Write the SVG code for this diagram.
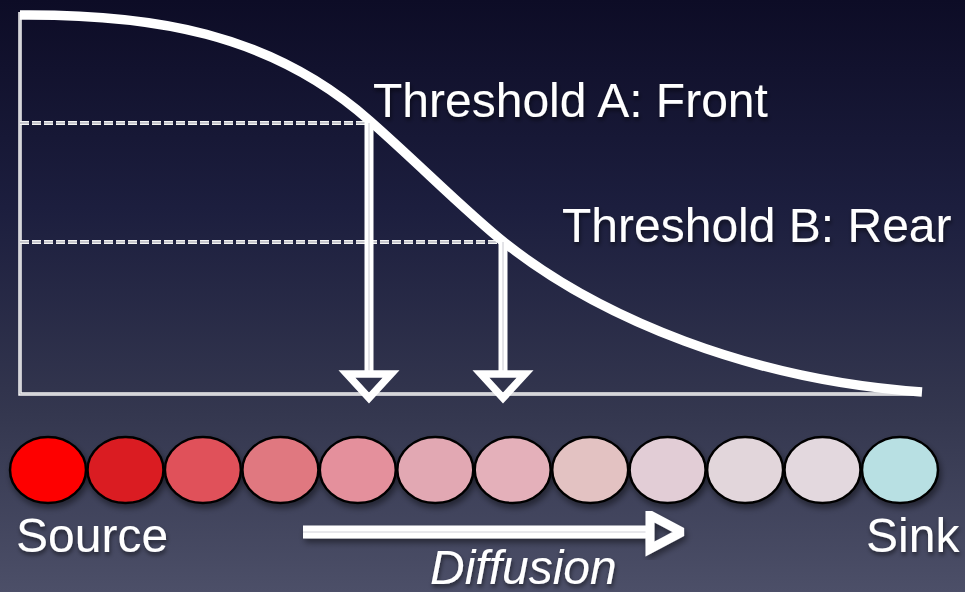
<svg xmlns="http://www.w3.org/2000/svg" width="965" height="592" viewBox="0 0 965 592">
<defs>
<linearGradient id="bg" x1="0" y1="0" x2="0" y2="1">
<stop offset="0" stop-color="#0d0c26"/>
<stop offset="0.35" stop-color="#1c1e3e"/>
<stop offset="0.7" stop-color="#34374f"/>
<stop offset="1" stop-color="#4c4f68"/>
</linearGradient>
<filter id="sh" x="-10%" y="-10%" width="130%" height="140%">
<feDropShadow dx="2" dy="4" stdDeviation="3" flood-color="#000" flood-opacity="0.45"/>
</filter>
<filter id="tsh" x="-5%" y="-20%" width="115%" height="150%">
<feDropShadow dx="1" dy="3" stdDeviation="2" flood-color="#000" flood-opacity="0.5"/>
</filter>
</defs>
<style>
.axis{fill:none;stroke:#f4f4f4;stroke-width:3.5}
.axin{fill:none;stroke:#b8b8c0;stroke-width:1}
.dash{fill:none;stroke:#f4f4f4;stroke-width:4;stroke-dasharray:9 3}
.dashin{fill:none;stroke:#9a9aa8;stroke-width:1;stroke-dasharray:9 3}
.curve{fill:none;stroke:#fff;stroke-width:9.5;stroke-linecap:butt}
.shaft{fill:none;stroke:#fff;stroke-width:9}
.shin{fill:none;stroke:#c8c8d0;stroke-width:1}
.head{fill:none;stroke:#fff;stroke-width:7.5;stroke-linejoin:miter;stroke-miterlimit:3}
.cell{stroke:#000;stroke-width:2.5}
.lbl{font-family:"Liberation Sans",Arial,sans-serif;font-size:48px;fill:#fff}
</style>
<rect x="0" y="0" width="965" height="592" fill="url(#bg)"/>

<g id="axes">
<path class="axis" d="M20,12 V394 H918"/>
<path class="axin" d="M20,12 V394 H918"/>
</g>

<g id="threshold-lines">
<line class="dash" x1="20" y1="123" x2="366" y2="123"/>
<line class="dashin" x1="20" y1="123" x2="366" y2="123"/>
<line class="dash" x1="20" y1="242" x2="500" y2="242"/>
<line class="dashin" x1="20" y1="242" x2="500" y2="242"/>
</g>

<g id="curve">
<path class="curve" d="M20,15 C150,14 270,32 370,121 C420,165 465,211 505,243 C600,318 750,380 922,392"/>
</g>

<g id="connectors">
<g id="arrow-a">
<line class="shaft" x1="369" y1="123" x2="369" y2="372"/>
<line class="shin" x1="369" y1="123" x2="369" y2="372"/>
<polygon class="head" points="347,374 391,374 369,398"/>
</g>
<g id="arrow-b">
<line class="shaft" x1="503" y1="242" x2="503" y2="372"/>
<line class="shin" x1="503" y1="242" x2="503" y2="372"/>
<polygon class="head" points="481,374 525,374 503,398"/>
</g>
<g id="arrow-diffusion" filter="url(#sh)">
<line x1="303" y1="532" x2="650" y2="532" stroke="#fff" stroke-width="13"/>
<line x1="303" y1="532" x2="648" y2="532" stroke="#d0d0d8" stroke-width="1"/>
<polygon points="650,515 650,549 682,532" fill="none" stroke="#fff" stroke-width="9" stroke-linejoin="miter" stroke-miterlimit="2"/>
</g>
</g>

<g id="label-threshold-a"><text class="lbl" x="373" y="117" filter="url(#tsh)">Threshold A: Front</text></g>
<g id="label-threshold-b"><text class="lbl" x="562" y="242" filter="url(#tsh)">Threshold B: Rear</text></g>

<g id="cells" filter="url(#sh)">
<g id="cell-1"><ellipse class="cell" cx="48" cy="470" rx="38" ry="33" fill="#fe0000"/></g>
<g id="cell-2"><ellipse class="cell" cx="125.5" cy="470" rx="38" ry="33" fill="#da1c20"/></g>
<g id="cell-3"><ellipse class="cell" cx="202.9" cy="470" rx="38" ry="33" fill="#e0515a"/></g>
<g id="cell-4"><ellipse class="cell" cx="280.4" cy="470" rx="38" ry="33" fill="#e07880"/></g>
<g id="cell-5"><ellipse class="cell" cx="357.8" cy="470" rx="38" ry="33" fill="#e4909c"/></g>
<g id="cell-6"><ellipse class="cell" cx="435.3" cy="470" rx="38" ry="33" fill="#e2a8b3"/></g>
<g id="cell-7"><ellipse class="cell" cx="512.7" cy="470" rx="38" ry="33" fill="#e4b0ba"/></g>
<g id="cell-8"><ellipse class="cell" cx="590.2" cy="470" rx="38" ry="33" fill="#e3c2c2"/></g>
<g id="cell-9"><ellipse class="cell" cx="667.6" cy="470" rx="38" ry="33" fill="#e2cdd6"/></g>
<g id="cell-10"><ellipse class="cell" cx="745.1" cy="470" rx="38" ry="33" fill="#e2d6db"/></g>
<g id="cell-11"><ellipse class="cell" cx="822.5" cy="470" rx="38" ry="33" fill="#e3d8de"/></g>
<g id="cell-12"><ellipse class="cell" cx="900" cy="470" rx="38" ry="33" fill="#b8e0e3"/></g>
</g>

<g id="label-source"><text class="lbl" x="16" y="552" filter="url(#tsh)">Source</text></g>
<g id="label-sink"><text class="lbl" x="866" y="552" filter="url(#tsh)">Sink</text></g>
<g id="label-diffusion"><text class="lbl" x="430" y="584" font-style="italic" filter="url(#tsh)">Diffusion</text></g>
</svg>
